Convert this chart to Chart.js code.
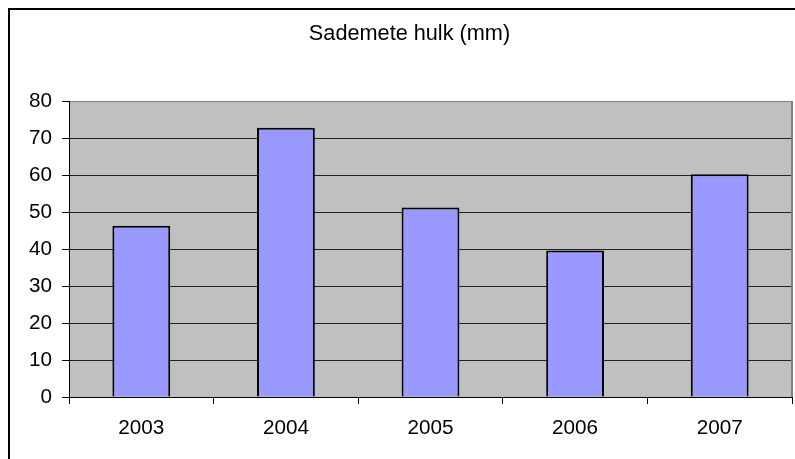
<!DOCTYPE html>
<html>
<head>
<meta charset="utf-8">
<script src="https://cdn.jsdelivr.net/npm/chart.js@4/dist/chart.umd.min.js"></script>
<style>
  html, body { margin: 0; padding: 0; background: #fff; }
  #wrap { width: 795px; height: 459px; }
</style>
</head>
<body>
<div id="wrap"><canvas id="rainChart" width="795" height="459"></canvas></div>
<script>
const years = ['2003', '2004', '2005', '2006', '2007'];
const rainfall = [46.3, 72.8, 51.2, 39.6, 60.2];
const yMin = 0;
const yMax = 80;
const yStep = 10;
const chartTitle = 'Sademete hulk (mm)';

const fontFamily = '"Liberation Sans", Arial, sans-serif';

// grey plot area + the outer frame line of the chart object
const plotBackground = {
    id: 'plotBackground',
    beforeDraw(chart) {
        const { ctx, chartArea: a } = chart;
        ctx.save();
        ctx.fillStyle = '#c0c0c0';
        ctx.fillRect(a.left, a.top, a.right - a.left, a.bottom - a.top);
        ctx.strokeStyle = '#000';
        ctx.lineWidth = 2;
        ctx.beginPath();
        ctx.moveTo(9, 470);
        ctx.lineTo(9, 9);
        ctx.lineTo(805, 9);
        ctx.stroke();
        ctx.restore();
    },
    beforeDatasetsDraw(chart) {
        const { ctx, chartArea: a } = chart;
        ctx.save();
        ctx.strokeStyle = '#808080';
        ctx.lineWidth = 2;
        ctx.beginPath();
        ctx.moveTo(a.right, a.top);
        ctx.lineTo(a.right, a.bottom);
        ctx.stroke();
        ctx.restore();
    }
};

new Chart(document.getElementById('rainChart'), {
    type: 'bar',
    data: {
        labels: years,
        datasets: [{
            data: rainfall,
            backgroundColor: '#9999ff',
            borderColor: '#000',
            borderWidth: 2,
            barPercentage: 0.4,
            categoryPercentage: 1
        }]
    },
    options: {
        responsive: false,
        animation: false,
        devicePixelRatio: 1,
        layout: { padding: { left: 27, right: 3, top: 0, bottom: 0 } },
        plugins: {
            legend: { display: false },
            tooltip: { enabled: false },
            title: {
                display: true,
                text: chartTitle,
                color: '#000',
                font: { family: fontFamily, size: 21.7, weight: 'normal' },
                padding: { top: 20.7, bottom: 54.3 }
            }
        },
        scales: {
            x: {
                afterFit: (scale) => { scale.height = 62; },
                grid: {
                    display: true,
                    drawOnChartArea: false,
                    drawTicks: true,
                    tickLength: 7,
                    tickColor: '#000',
                    offset: true
                },
                border: { display: true, color: '#000', width: 1 },
                ticks: {
                    color: '#000',
                    padding: 12,
                    font: { family: fontFamily, size: 20.7 }
                }
            },
            y: {
                min: yMin,
                max: yMax,
                afterFit: (scale) => { scale.width = 42; },
                grid: {
                    color: (ctx) => (ctx.tick && ctx.tick.value === yMax ? '#808080' : '#222'),
                    lineWidth: 1,
                    drawTicks: true,
                    tickLength: 7,
                    tickColor: '#000'
                },
                border: { display: true, color: '#000', width: 1 },
                ticks: {
                    stepSize: yStep,
                    color: '#000',
                    padding: 10,
                    font: { family: fontFamily, size: 20.7 }
                }
            }
        }
    },
    plugins: [plotBackground]
});
</script>
</body>
</html>
